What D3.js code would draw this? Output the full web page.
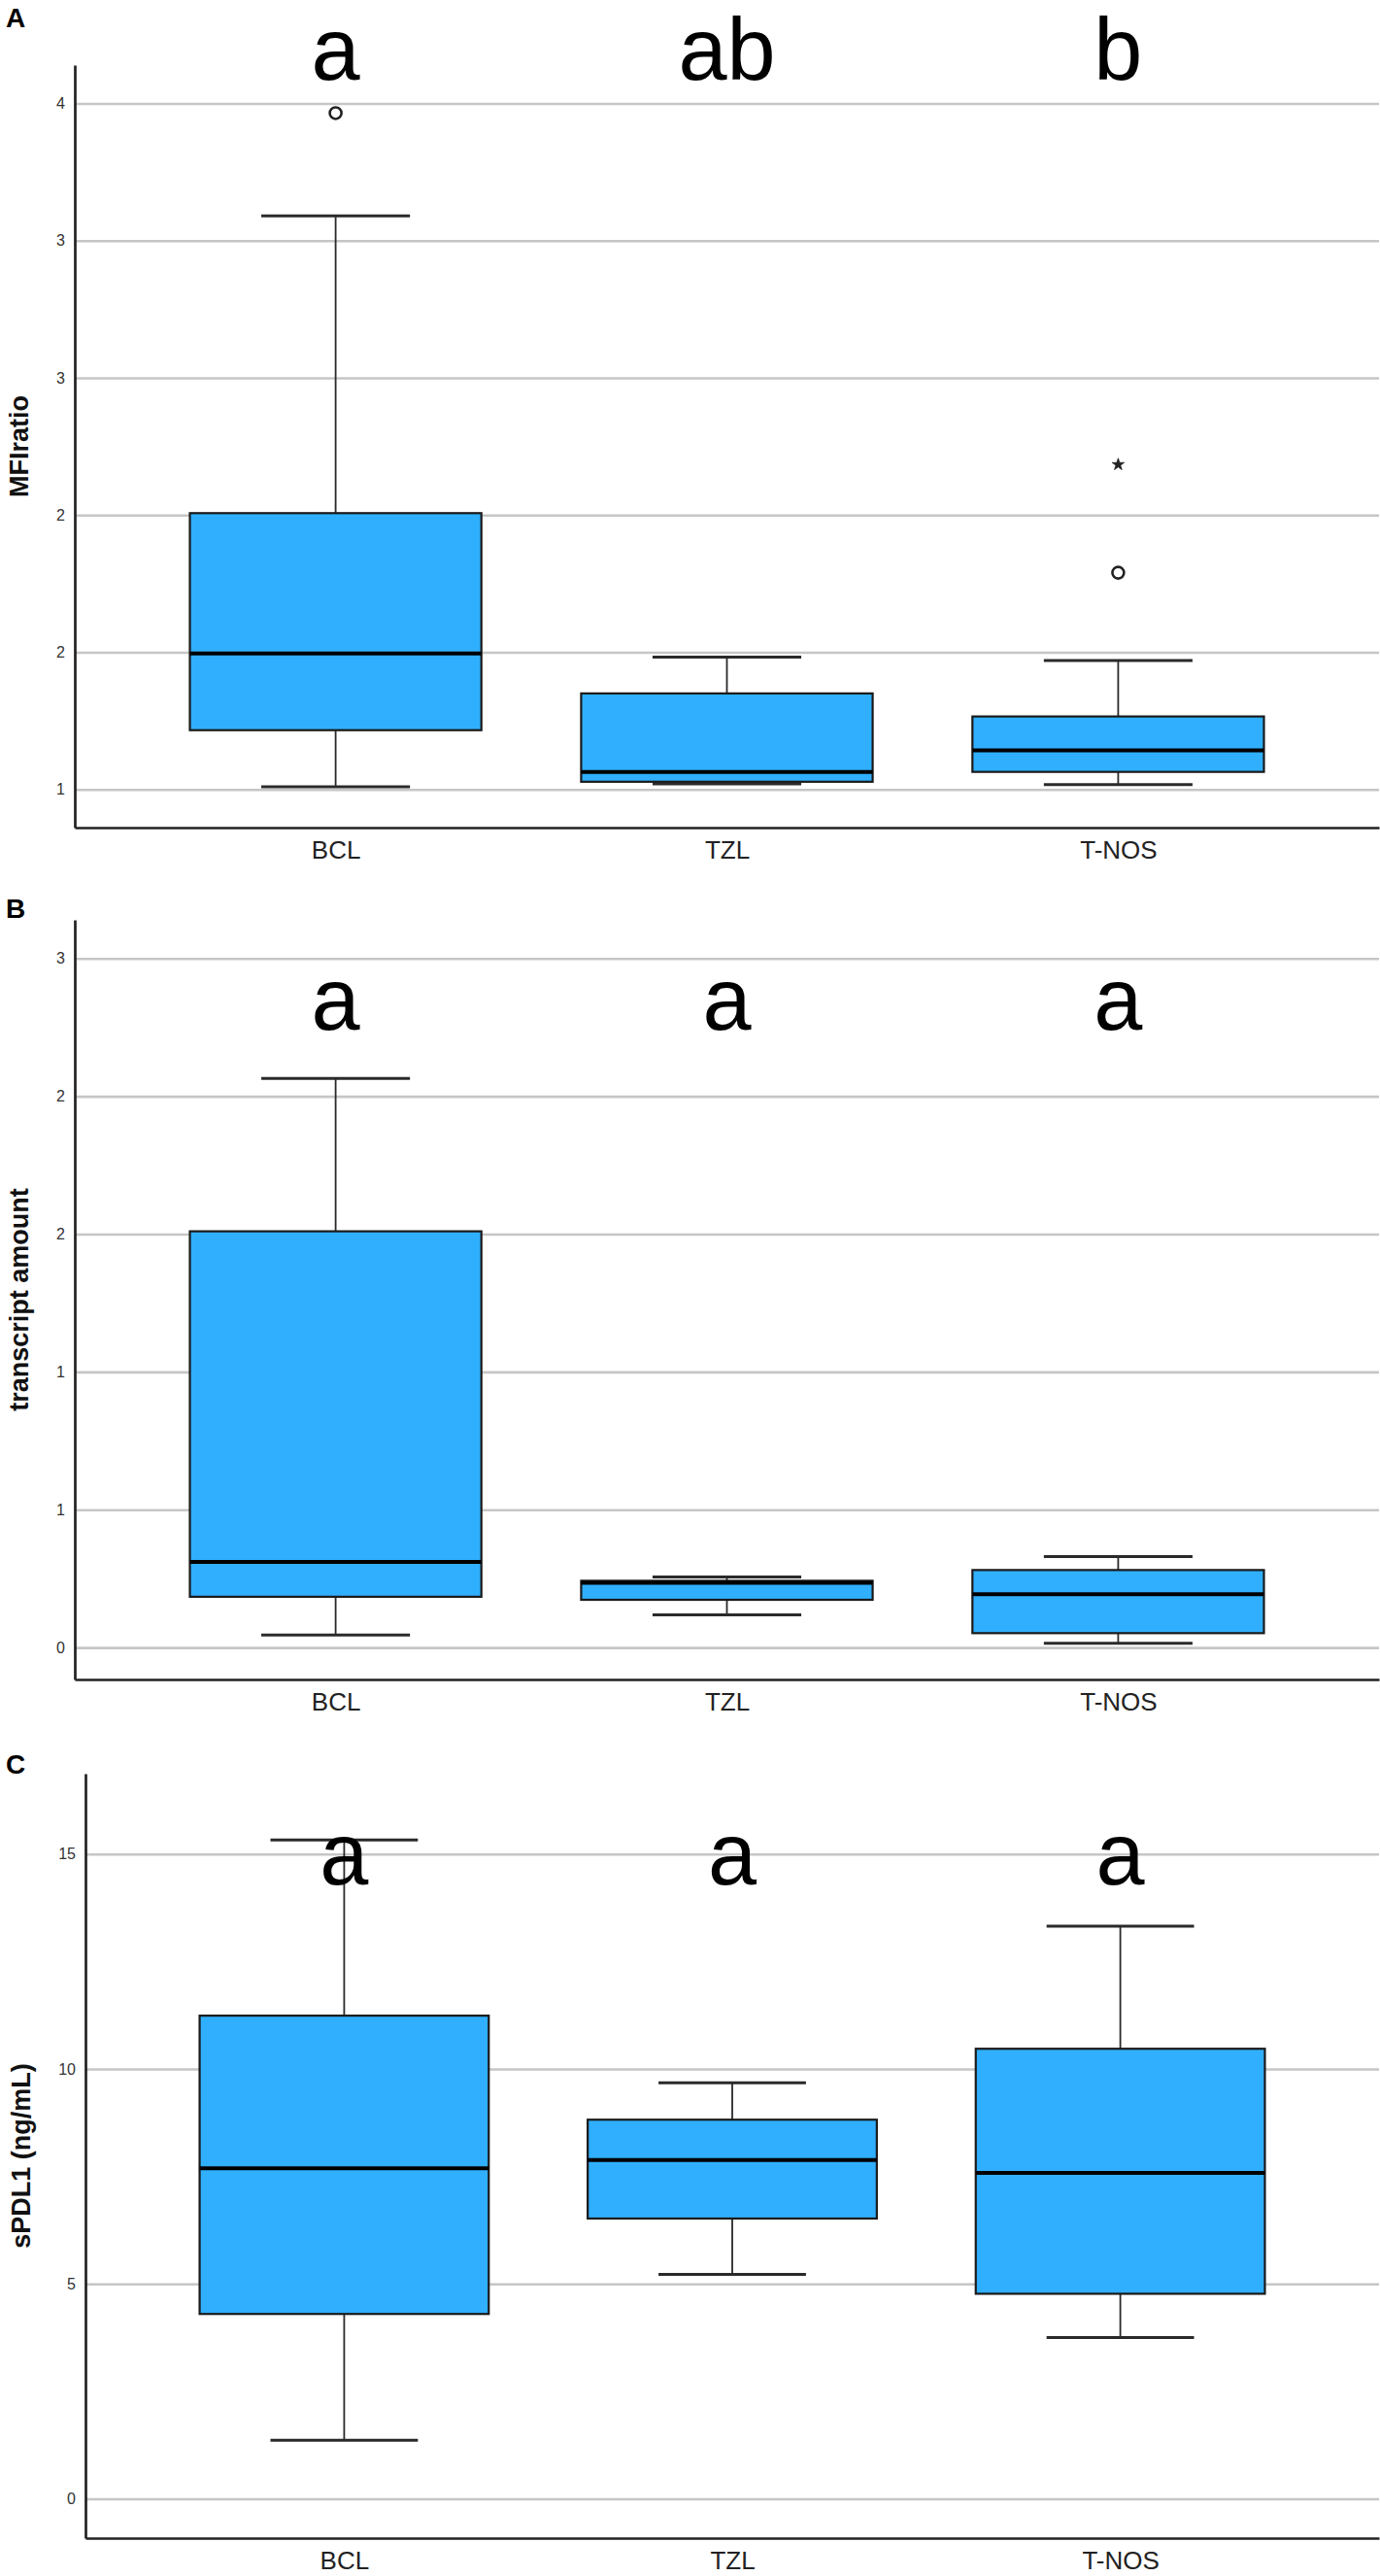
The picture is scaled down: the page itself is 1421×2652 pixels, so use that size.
<!DOCTYPE html>
<html>
<head>
<meta charset="utf-8">
<script src="https://cdn.jsdelivr.net/npm/d3@7/dist/d3.min.js"></script>
<style>
  html, body { margin: 0; padding: 0; background: #fff; }
  svg { display: block; }
</style>
</head>
<body>
<svg id="chart" width="1421" height="2652"></svg>
<script>
// ---------------- DATA ----------------
const categories = ["BCL", "TZL", "T-NOS"];

// box stats per category: [lowerWhisker, q1, median, q3, upperWhisker]
const mfiBoxes = [
  [1.01, 1.216, 1.496, 2.007, 3.09],
  [1.02, 1.028, 1.064, 1.35, 1.482],
  [1.018, 1.064, 1.142, 1.266, 1.47]
];
const mfiOutliers = [
  { cat: "BCL", value: 3.465, kind: "circle" },
  { cat: "T-NOS", value: 2.184, kind: "star" },
  { cat: "T-NOS", value: 1.79, kind: "circle" }
];
const mfiTicks = [1, 1.5, 2, 2.5, 3, 3.5];
const mfiTickLabels = ["1", "2", "2", "3", "3", "4"];
const mfiLetters = ["a", "ab", "b"];

const transcriptBoxes = [
  [0.045, 0.184, 0.31, 1.51, 2.065],
  [0.118, 0.173, 0.235, 0.242, 0.256],
  [0.015, 0.052, 0.193, 0.281, 0.33]
];
const transcriptOutliers = [];
const transcriptTicks = [0, 0.5, 1, 1.5, 2, 2.5];
const transcriptTickLabels = ["0", "1", "1", "2", "2", "3"];
const transcriptLetters = ["a", "a", "a"];

const spdl1Boxes = [
  [1.36, 4.30, 7.69, 11.24, 15.33],
  [5.22, 6.52, 7.88, 8.82, 9.68],
  [3.75, 4.77, 7.58, 10.47, 13.32]
];
const spdl1Outliers = [];
const spdl1Ticks = [0, 5, 10, 15];
const spdl1TickLabels = ["0", "5", "10", "15"];
const spdl1Letters = ["a", "a", "a"];

// ---------------- LAYOUT ----------------
const panels = [
  { tag: "A", title: "MFIratio", boxes: mfiBoxes, outliers: mfiOutliers,
    ticks: mfiTicks, tickLabels: mfiTickLabels, letters: mfiLetters,
    domain: [0.861, 3.64], top: 67, bottom: 852, axisX: 77,
    tagY: 28, titleX: 29, letterY: 82 },
  { tag: "B", title: "transcript amount", boxes: transcriptBoxes, outliers: transcriptOutliers,
    ticks: transcriptTicks, tickLabels: transcriptTickLabels, letters: transcriptLetters,
    domain: [-0.116, 2.64], top: 947, bottom: 1729, axisX: 77,
    tagY: 945, titleX: 29, letterY: 1060 },
  { tag: "C", title: "sPDL1 (ng/mL)", boxes: spdl1Boxes, outliers: spdl1Outliers,
    ticks: spdl1Ticks, tickLabels: spdl1TickLabels, letters: spdl1Letters,
    domain: [-0.915, 16.87], top: 1826, bottom: 2613, axisX: 88,
    tagY: 1826, titleX: 31, letterY: 1940 }
];

const rightEdge = 1420;
const FONT = "Arial, 'Liberation Sans', Helvetica, sans-serif";
const BOX_FILL = "#30AFFE";

const svg = d3.select("#chart");
svg.append("rect").attr("width", 1421).attr("height", 2652).attr("fill", "#fff");

panels.forEach(p => {
  const g = svg.append("g");
  const x = d3.scalePoint().domain(categories).range([p.axisX, rightEdge]).padding(2 / 3);
  const y = d3.scaleLinear().domain(p.domain).range([p.bottom, p.top]);
  const step = x.step();
  const boxW = step * 0.745;
  const capW = step * 0.38;

  // gridlines
  const grid = g.append("g")
    .attr("transform", `translate(${p.axisX},0)`)
    .call(d3.axisLeft(y).tickValues(p.ticks).tickSize(-(rightEdge - p.axisX)).tickFormat(""));
  grid.select(".domain").remove();
  grid.selectAll(".tick line").attr("stroke", "#c6c6c6").attr("stroke-width", 2.6);

  // boxes
  const bx = g.selectAll(".box").data(p.boxes).enter().append("g").attr("class", "box");
  // whisker stems
  bx.append("line")
    .attr("x1", (d, i) => x(categories[i])).attr("x2", (d, i) => x(categories[i]))
    .attr("y1", d => y(d[0])).attr("y2", d => y(d[1]))
    .attr("stroke", "#2a2a2a").attr("stroke-width", 1.8);
  bx.append("line")
    .attr("x1", (d, i) => x(categories[i])).attr("x2", (d, i) => x(categories[i]))
    .attr("y1", d => y(d[3])).attr("y2", d => y(d[4]))
    .attr("stroke", "#2a2a2a").attr("stroke-width", 1.8);
  // caps
  [0, 4].forEach(k => {
    bx.append("line")
      .attr("x1", (d, i) => x(categories[i]) - capW / 2)
      .attr("x2", (d, i) => x(categories[i]) + capW / 2)
      .attr("y1", d => y(d[k])).attr("y2", d => y(d[k]))
      .attr("stroke", "#2a2a2a").attr("stroke-width", 3);
  });
  // box
  bx.append("rect")
    .attr("x", (d, i) => x(categories[i]) - boxW / 2)
    .attr("width", boxW)
    .attr("y", d => y(d[3]))
    .attr("height", d => y(d[1]) - y(d[3]))
    .attr("fill", BOX_FILL).attr("stroke", "#1a1a1a").attr("stroke-width", 2.2);
  // median
  bx.append("line")
    .attr("x1", (d, i) => x(categories[i]) - boxW / 2)
    .attr("x2", (d, i) => x(categories[i]) + boxW / 2)
    .attr("y1", d => y(d[2])).attr("y2", d => y(d[2]))
    .attr("stroke", "#000").attr("stroke-width", 4);

  // outliers
  p.outliers.forEach(o => {
    if (o.kind === "circle") {
      g.append("circle").attr("cx", x(o.cat)).attr("cy", y(o.value)).attr("r", 6)
        .attr("fill", "#fff").attr("stroke", "#222").attr("stroke-width", 2.6);
    } else {
      g.append("path").attr("d", d3.symbol(d3.symbolStar, 48)())
        .attr("transform", `translate(${x(o.cat)},${y(o.value)})`)
        .attr("fill", "#222").attr("stroke", "#222").attr("stroke-width", 0.8);
    }
  });

  // y axis
  const ya = g.append("g")
    .attr("transform", `translate(${p.axisX},0)`)
    .call(d3.axisLeft(y).tickValues(p.ticks).tickSize(0).tickSizeOuter(0).tickPadding(10)
      .tickFormat((d, i) => p.tickLabels[i]));
  ya.select(".domain").attr("stroke", "#222").attr("stroke-width", 2.7);
  ya.selectAll("text").attr("font-family", FONT).attr("font-size", 16).attr("fill", "#333");

  // x axis
  const xa = g.append("g")
    .attr("transform", `translate(0,${p.bottom})`)
    .call(d3.axisBottom(x).tickSize(0).tickSizeOuter(0).tickPadding(14));
  xa.select(".domain").attr("stroke", "#222").attr("stroke-width", 2.7);
  xa.selectAll("text").attr("font-family", FONT).attr("font-size", 26).attr("fill", "#222");

  // y title
  g.append("text")
    .attr("transform", `translate(${p.titleX},${(p.top + p.bottom) / 2}) rotate(-90)`)
    .attr("text-anchor", "middle")
    .attr("font-family", FONT).attr("font-weight", "bold").attr("font-size", 27)
    .attr("fill", "#111")
    .text(p.title);

  // panel tag
  g.append("text")
    .attr("x", 6).attr("y", p.tagY)
    .attr("font-family", FONT).attr("font-weight", "bold").attr("font-size", 28)
    .attr("fill", "#000")
    .text(p.tag);

  // significance letters
  g.selectAll(".sig").data(p.letters).enter().append("text")
    .attr("x", (d, i) => x(categories[i]))
    .attr("y", p.letterY)
    .attr("text-anchor", "middle")
    .attr("font-family", "'Liberation Sans', Arial, sans-serif").attr("font-size", 90)
    .attr("fill", "#000")
    .text(d => d);
});
</script>
</body>
</html>
